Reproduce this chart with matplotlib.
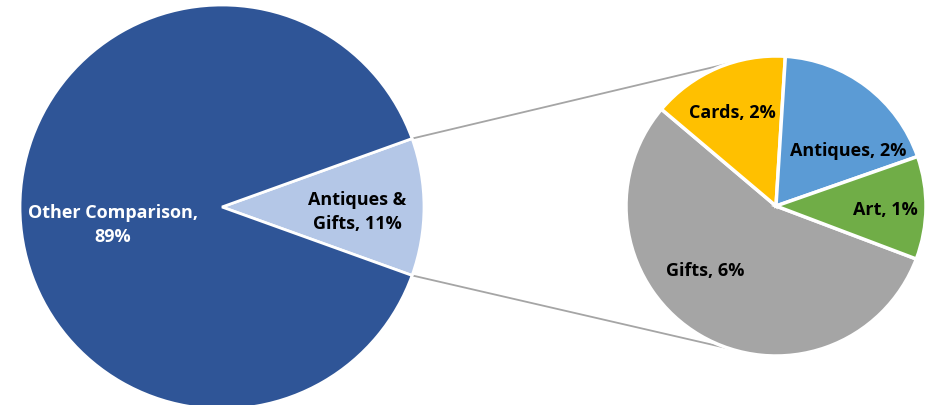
import matplotlib
matplotlib.use("Agg")
import matplotlib.pyplot as plt
import numpy as np

# ---- data ----
main_labels = ["Antiques & Gifts", "Other Comparison"]
main_values = [11, 89]
sub_labels = ["Gifts", "Cards", "Antiques", "Art"]
sub_values = [6.09, 1.63, 2.05, 1.22]
sub_display = ["6%", "2%", "2%", "1%"]
main_display = ["11%", "89%"]

# ---- style ----
W, H = 928, 406
main_colors = ["#B4C7E7", "#2F5597"]
sub_colors = ["#A5A5A5", "#FFC000", "#5B9BD5", "#70AD47"]
main_center, main_r = (222, 198), 202
sub_center, sub_r = (776, 199), 150
font = ["Open Sans", "DejaVu Sans"]
fs = 13

fig = plt.figure(figsize=(W / 100, H / 100), dpi=100)
ax = fig.add_axes([0, 0, 1, 1])
ax.set_xlim(0, W)
ax.set_ylim(0, H)
ax.set_aspect("equal")
ax.axis("off")

main_frac = main_values[0] / sum(main_values)
start_main = -main_frac * 360 / 2
wm, _ = ax.pie(main_values, colors=main_colors, startangle=start_main,
               center=main_center, radius=main_r, counterclock=True,
               wedgeprops=dict(edgecolor="white", linewidth=2))

ws, _ = ax.pie(sub_values, colors=sub_colors, startangle=-20.7,
               center=sub_center, radius=sub_r, counterclock=False,
               wedgeprops=dict(edgecolor="white", linewidth=2.5))
ax.set_xlim(0, W)
ax.set_ylim(0, H)

# labels (per-label offsets relative to pie centre, in radius units)
main_pos = [(0.67, -0.02), (-0.54, -0.085)]
main_txt = ["Antiques &\nGifts, " + main_display[0], "Other Comparison,\n" + main_display[1]]
main_tc = ["black", "white"]
for (fx, fy), t, c in zip(main_pos, main_txt, main_tc):
    ax.text(main_center[0] + fx * main_r, main_center[1] + fy * main_r, t,
            ha="center", va="center", fontsize=fs, fontweight="bold",
            color=c, family=font, linespacing=1.45)

sub_pos = [(-0.47, -0.43), (-0.29, 0.63), (0.48, 0.37), (0.73, -0.02)]
for (fx, fy), lab, d in zip(sub_pos, sub_labels, sub_display):
    ax.text(sub_center[0] + fx * sub_r, sub_center[1] + fy * sub_r, f"{lab}, {d}",
            ha="center", va="center", fontsize=fs, fontweight="bold",
            color="black", family=font)

# connector lines
half = np.deg2rad(main_frac * 360 / 2)
for sgn, ang in [(1, 107.7), (-1, 252.3)]:
    x0 = main_center[0] + main_r * np.cos(sgn * half)
    y0 = main_center[1] + main_r * np.sin(sgn * half)
    a = np.deg2rad(ang)
    x1 = sub_center[0] + sub_r * np.cos(a)
    y1 = sub_center[1] + sub_r * np.sin(a)
    ax.plot([x0, x1], [y0, y1], color="#A5A5A5", linewidth=1.3, zorder=0.5)

fig.savefig("out.png", dpi=100)
